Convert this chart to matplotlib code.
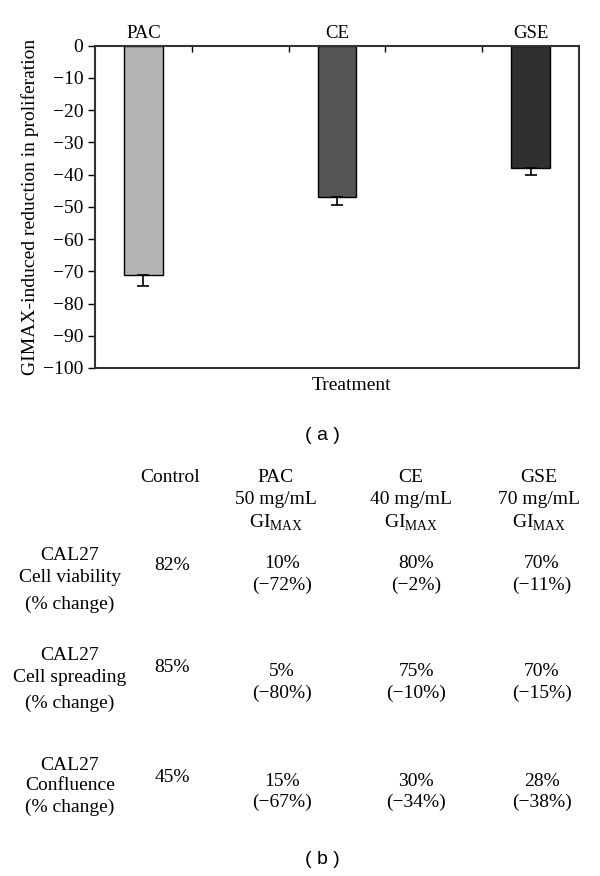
import matplotlib
matplotlib.use("Agg")
import matplotlib.pyplot as plt
import numpy as np

plt.rcParams["font.family"] = ["Liberation Serif", "DejaVu Serif"]
plt.rcParams["mathtext.fontset"] = "custom"
plt.rcParams["mathtext.rm"] = "Liberation Serif"

# panel (a) data
treatments = ["PAC", "CE", "GSE"]
reduction = [-71, -47, -38]
reduction_err = [3.7, 2.3, 2.0]
bar_colors = ["#b3b3b3", "#555555", "#303030"]

# panel (b) table
col_headers = ["Control", "PAC\n50 mg/mL\nGI$_{\\mathrm{MAX}}$",
               "CE\n40 mg/mL\nGI$_{\\mathrm{MAX}}$", "GSE\n70 mg/mL\nGI$_{\\mathrm{MAX}}$"]
row_labels = ["CAL27\nCell viability\n(% change)",
              "CAL27\nCell spreading\n(% change)",
              "CAL27\nConfluence\n(% change)"]
control_vals = ["82%", "85%", "45%"]
treated_vals = [["10%", "80%", "70%"],
                ["5%", "75%", "70%"],
                ["15%", "30%", "28%"]]
change_vals = [["\u221272%", "\u22122%", "\u221211%"],
               ["\u221280%", "\u221210%", "\u221215%"],
               ["\u221267%", "\u221234%", "\u221238%"]]

W, H = 600, 876
fig = plt.figure(figsize=(W / 100, H / 100), dpi=100)


def fx(x):
    return x / W


def fy(y):
    return 1 - y / H


# --- panel (a) ---
ax = fig.add_axes([fx(95), fy(368), fx(579) - fx(95), fy(45.7) - fy(368)])
pos = [0.5, 2.5, 4.5]
ax.bar(pos, reduction, width=0.4, color=bar_colors, edgecolor="black", linewidth=1.0, zorder=2)
ax.errorbar(pos, reduction, yerr=[reduction_err, np.zeros(len(pos))], fmt="none",
            ecolor="black", elinewidth=1.2, capsize=4, capthick=1.2, zorder=3)
ax.set_xlim(0, 5)
ax.set_ylim(-100, 0)
ax.set_yticks(np.arange(-100, 1, 10))
ax.tick_params(axis="y", labelsize=14, length=5, width=1, direction="out")
ax.xaxis.tick_top()
ax.set_xticks(pos)
ax.set_xticklabels(treatments, fontsize=13.5)
ax.set_xticks([1, 2, 3, 4], minor=True)
ax.tick_params(axis="x", which="major", length=0, pad=3)
ax.tick_params(axis="x", which="minor", length=4, width=1, direction="in", top=True, bottom=False)
for s in ax.spines.values():
    s.set_linewidth(1.5)
    s.set_color("#333333")
ax.set_ylabel("GIMAX-induced reduction in proliferation", fontsize=14, labelpad=3)
fig.text(fx(352), fy(385), "Treatment", fontsize=14, ha="center", va="center")
fig.text(fx(322), fy(436), "( a )", fontsize=14, ha="center", va="center", family="Liberation Sans")

# --- panel (b) ---
col_x = [170, 276, 411, 539]
val_x = [172, 282, 416, 542]
header_y = [478, 499, 523]
for x, txt in zip(col_x, col_headers):
    for i, line in enumerate(txt.split("\n")):
        fig.text(fx(x), fy(header_y[i]), line, fontsize=14, ha="center", va="center")

label_y = [[555, 578, 604], [655, 678, 703], [765, 786, 807]]
control_y = [565, 667, 777]
value_y = [[563, 585], [672, 693], [781, 802]]
for r, lab in enumerate(row_labels):
    for i, line in enumerate(lab.split("\n")):
        fig.text(fx(70), fy(label_y[r][i]), line, fontsize=14, ha="center", va="center")
    fig.text(fx(val_x[0]), fy(control_y[r]), control_vals[r], fontsize=14, ha="center", va="center")
    for c in range(3):
        fig.text(fx(val_x[c + 1]), fy(value_y[r][0]), treated_vals[r][c], fontsize=14,
                 ha="center", va="center")
        fig.text(fx(val_x[c + 1]), fy(value_y[r][1]), "(" + change_vals[r][c] + ")", fontsize=14,
                 ha="center", va="center")

fig.text(fx(322), fy(860), "( b )", fontsize=14, ha="center", va="center", family="Liberation Sans")

fig.savefig("out.png", dpi=100)
